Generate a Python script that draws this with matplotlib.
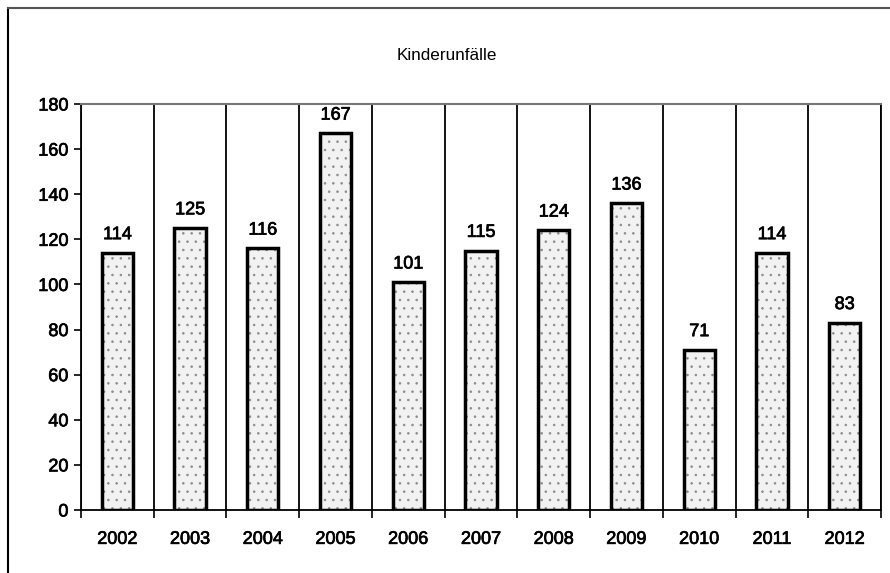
import matplotlib.pyplot as plt
import matplotlib.patheffects as pe
import numpy as np

years = ['2002', '2003', '2004', '2005', '2006', '2007', '2008', '2009', '2010', '2011', '2012']
unfaelle = [114, 125, 116, 167, 101, 115, 124, 136, 71, 114, 83]
y_ticks = [0, 20, 40, 60, 80, 100, 120, 140, 160, 180]

plt.rcParams['font.family'] = ['Liberation Sans', 'DejaVu Sans']
plt.rcParams['hatch.linewidth'] = 0.6

# slightly heavier text, like the scanned original
heavy = [pe.withStroke(linewidth=0.5, foreground='black')]

fig = plt.figure(figsize=(8.9, 5.73), dpi=100)
ax = fig.add_axes([81 / 890, 1 - 510 / 573, 800 / 890, 406 / 573])

x = np.arange(len(years))
bars = ax.bar(x, unfaelle, width=0.43, color='#f2f2f2', edgecolor='black',
              linewidth=2.5, hatch='..', zorder=3)
for b in bars:
    b._hatch_color = (0.55, 0.55, 0.55, 1.0)

for xi, v in zip(x, unfaelle):
    ax.annotate(str(v), (xi, v), xytext=(0, 7), textcoords='offset points',
                ha='center', va='bottom', fontsize=13, path_effects=heavy)

# category separators
for sep in np.arange(len(years) + 1) - 0.5:
    ax.axvline(sep, color='black', linewidth=1.3, zorder=2)

ax.set_xlim(-0.5, len(years) - 0.5)
ax.set_ylim(0, 180)
ax.set_yticks(y_ticks)
ax.set_xticks(np.arange(len(years) + 1) - 0.5, minor=True)
ax.set_xticks(x)
ax.set_xticklabels(years)
ax.tick_params(axis='x', which='major', length=0, pad=15, labelsize=13)
ax.tick_params(axis='x', which='minor', length=6, width=1.2, direction='out')
ax.tick_params(axis='y', length=5, width=1.2, direction='out', labelsize=13, pad=4)
for lbl in ax.get_xticklabels() + ax.get_yticklabels():
    lbl.set_path_effects(heavy)

ax.spines['top'].set_color('#777777')
ax.spines['top'].set_linewidth(1.5)
ax.spines['right'].set_linewidth(1.3)
ax.spines['left'].set_linewidth(1.3)
ax.spines['bottom'].set_linewidth(1.3)

fig.text(447 / 890, 1 - 55 / 573, 'Kinderunfälle', ha='center', va='center', fontsize=12.3)

# outer frame
fig.add_artist(plt.Line2D([8 / 890, 8 / 890], [0, 1 - 8 / 573], color='black', linewidth=1.5))
fig.add_artist(plt.Line2D([8 / 890, 1], [1 - 8 / 573, 1 - 8 / 573], color='#555555', linewidth=1.5))

plt.savefig('out.png', dpi=100)
